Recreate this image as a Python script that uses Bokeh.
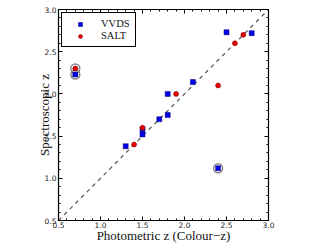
from bokeh.plotting import figure
from bokeh.models import LinearAxis, Range1d, Legend, LegendItem, FixedTicker, PrintfTickFormatter
from bokeh.embed import file_html
from bokeh.resources import INLINE

vvds_x = [0.7, 1.3, 1.5, 1.5, 1.7, 1.8, 1.8, 2.1, 2.5, 2.8, 2.4]
vvds_y = [2.23, 1.38, 1.52, 1.58, 1.70, 1.75, 2.00, 2.14, 2.73, 2.72, 1.12]
salt_x = [0.7, 1.4, 1.5, 1.9, 2.4, 2.6, 2.7]
salt_y = [2.30, 1.40, 1.60, 2.00, 2.10, 2.60, 2.70]
flag_x = [0.7, 0.7, 2.4]
flag_y = [2.23, 2.30, 1.12]
line_x = [0.5, 3.0]
line_y = [0.5, 3.0]
ticks = [0.5, 1.0, 1.5, 2.0, 2.5, 3.0]

p = figure(frame_width=210, frame_height=211, output_backend="svg", toolbar_location=None,
           x_range=Range1d(0.5, 3.0), y_range=Range1d(0.5, 3.0),
           min_border_left=58, min_border_right=10, min_border_top=9, min_border_bottom=10,
           x_axis_label="Photometric z (Colour\u2212z)", y_axis_label="Spectroscopic z")
p.grid.visible = False
p.outline_line_color = "black"
p.outline_line_width = 1.2
p.background_fill_color = "white"
p.border_fill_color = "white"

# legend proxies (drawn first, hidden beneath the real markers)
l1 = p.scatter(vvds_x[:1], vvds_y[:1], marker="square", size=4, fill_color="#0000ee", line_color="#000066", line_width=0.5)
l2 = p.scatter(salt_x[:1], salt_y[:1], marker="circle", size=4, fill_color="#ee0000", line_color="#660000", line_width=0.5)

p.line(line_x, line_y, line_color="#555555", line_dash="4 4", line_width=1.2)
p.scatter(flag_x, flag_y, marker="circle", size=9, fill_color=None, line_color="#888888", line_width=1.5)
r1 = p.scatter(vvds_x, vvds_y, marker="square", size=5, fill_color="#0000ee", line_color="#000066", line_width=0.5)
r2 = p.scatter(salt_x, salt_y, marker="circle", size=5, fill_color="#ee0000", line_color="#660000", line_width=0.5)

def style_axis(ax, labels=True):
    ax.ticker = FixedTicker(ticks=ticks, minor_ticks=[0.5 + 0.1 * i for i in range(26)])
    ax.formatter = PrintfTickFormatter(format="%.1f")
    ax.major_tick_in = 4
    ax.major_tick_out = 0
    ax.minor_tick_in = 2
    ax.minor_tick_out = 0
    ax.axis_line_color = "black"
    ax.major_label_text_font = "DejaVu Sans"
    ax.major_label_text_font_size = "7.5px"
    ax.major_label_text_color = "#222222"
    ax.major_label_standoff = 1
    ax.axis_label_text_font = "Liberation Serif"
    ax.axis_label_text_font_size = "13px"
    ax.axis_label_text_font_style = "normal"
    ax.axis_label_text_color = "#111111"
    ax.axis_label_standoff = -3
    if not labels:
        ax.major_label_text_font_size = "0px"
        ax.major_label_text_color = None

for ax in p.xaxis:
    style_axis(ax)
for ax in p.yaxis:
    style_axis(ax)
p.yaxis[0].major_label_standoff = 2
p.yaxis[0].axis_label_standoff = -10
p.xaxis[0].axis_label_standoff = -3

top = LinearAxis()
style_axis(top, labels=False)
p.add_layout(top, "above")
right = LinearAxis()
style_axis(right, labels=False)
p.add_layout(right, "right")

legend = Legend(items=[LegendItem(label="VVDS", renderers=[l1]), LegendItem(label="SALT", renderers=[l2])],
                location="top_left",
                border_line_color="black", border_line_width=1.5, border_line_alpha=1.0,
                background_fill_color="white", background_fill_alpha=1.0)
legend.label_text_font = "Liberation Serif"
legend.label_text_font_size = "10.5px"
legend.label_text_color = "#111111"
legend.padding = 5
legend.margin = 3
legend.spacing = 1
legend.glyph_width = 26
legend.glyph_height = 10
legend.label_height = 11
legend.label_standoff = 8
p.add_layout(legend, "center")

open("out.html", "w").write(file_html(p, INLINE))
